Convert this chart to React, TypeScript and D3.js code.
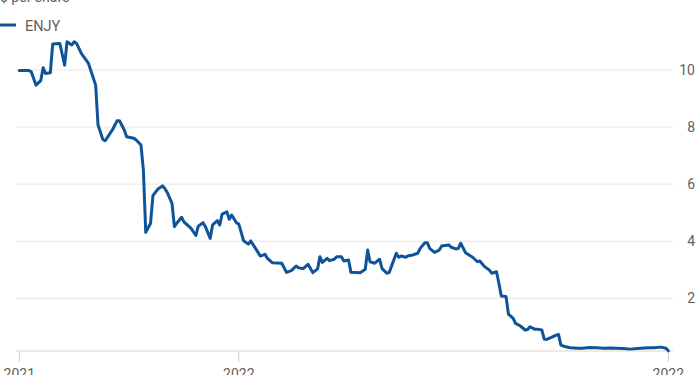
import React from "react";
import * as d3 from "d3";

// ENJY share price, $ per share
const dates = [
  "2021-10-01", "2021-10-05", "2021-10-06", "2021-10-08", "2021-10-10", "2021-10-11", "2021-10-12",
  "2021-10-14", "2021-10-15", "2021-10-18", "2021-10-20", "2021-10-21", "2021-10-23", "2021-10-24",
  "2021-10-25", "2021-10-27", "2021-10-30", "2021-11-02", "2021-11-03", "2021-11-05", "2021-11-06",
  "2021-11-09", "2021-11-11", "2021-11-12", "2021-11-14", "2021-11-15", "2021-11-18", "2021-11-19",
  "2021-11-21", "2021-11-22", "2021-11-23", "2021-11-25", "2021-11-26", "2021-11-28", "2021-11-30",
  "2021-12-01", "2021-12-02", "2021-12-04", "2021-12-05", "2021-12-06", "2021-12-08", "2021-12-09",
  "2021-12-12", "2021-12-14", "2021-12-15", "2021-12-17", "2021-12-18", "2021-12-20", "2021-12-21",
  "2021-12-23", "2021-12-24", "2021-12-25", "2021-12-27", "2021-12-28", "2021-12-29", "2021-12-31",
  "2022-01-01", "2022-01-03", "2022-01-05", "2022-01-06", "2022-01-08", "2022-01-10", "2022-01-12",
  "2022-01-13", "2022-01-15", "2022-01-19", "2022-01-21", "2022-01-23", "2022-01-25", "2022-01-26",
  "2022-01-28", "2022-01-30", "2022-01-31", "2022-02-01", "2022-02-03", "2022-02-04", "2022-02-05",
  "2022-02-07", "2022-02-08", "2022-02-10", "2022-02-11", "2022-02-13", "2022-02-14", "2022-02-16",
  "2022-02-17", "2022-02-21", "2022-02-23", "2022-02-24", "2022-02-25", "2022-02-27", "2022-03-01",
  "2022-03-02", "2022-03-04", "2022-03-05", "2022-03-08", "2022-03-09", "2022-03-10", "2022-03-12",
  "2022-03-13", "2022-03-15", "2022-03-17", "2022-03-18", "2022-03-20", "2022-03-21", "2022-03-22",
  "2022-03-24", "2022-03-26", "2022-03-27", "2022-03-30", "2022-03-31", "2022-04-02", "2022-04-03",
  "2022-04-04", "2022-04-06", "2022-04-08", "2022-04-09", "2022-04-11", "2022-04-12", "2022-04-14",
  "2022-04-16", "2022-04-17", "2022-04-19", "2022-04-20", "2022-04-21", "2022-04-23", "2022-04-24",
  "2022-04-26", "2022-04-27", "2022-04-29", "2022-05-01", "2022-05-02", "2022-05-03", "2022-05-05",
  "2022-05-06", "2022-05-08", "2022-05-09", "2022-05-10", "2022-05-12", "2022-05-14", "2022-05-15",
  "2022-05-16", "2022-05-18", "2022-05-20", "2022-05-23", "2022-05-25", "2022-05-28", "2022-05-31",
  "2022-06-03", "2022-06-06", "2022-06-08", "2022-06-11", "2022-06-14", "2022-06-17", "2022-06-20",
  "2022-06-22", "2022-06-24", "2022-06-27", "2022-06-29", "2022-06-30",
];

const prices = [
  9.98, 9.98, 9.94, 9.47, 9.63, 10.08, 9.88,
  9.9, 10.91, 10.93, 10.17, 10.99, 10.88, 10.99,
  10.93, 10.58, 10.23, 9.47, 8.07, 7.57, 7.52,
  7.9, 8.22, 8.22, 7.9, 7.66, 7.61, 7.55,
  7.37, 6.5, 4.31, 4.63, 5.6, 5.82, 5.94,
  5.85, 5.71, 5.33, 4.51, 4.63, 4.84, 4.68,
  4.45, 4.2, 4.53, 4.65, 4.51, 4.1, 4.57,
  4.72, 4.57, 4.95, 5.03, 4.77, 4.92, 4.65,
  4.6, 4.02, 3.9, 4.01, 3.75, 3.48, 3.54,
  3.4, 3.25, 3.23, 2.91, 2.97, 3.13, 3.07,
  3.04, 3.19, 3.05, 2.9, 3.03, 3.46, 3.26,
  3.4, 3.32, 3.37, 3.46, 3.46, 3.31, 3.34,
  2.91, 2.9, 3.02, 3.69, 3.28, 3.23, 3.37,
  3.05, 2.88, 2.9, 3.58, 3.44, 3.48, 3.44,
  3.49, 3.52, 3.58, 3.75, 3.95, 3.95, 3.75,
  3.61, 3.69, 3.83, 3.87, 3.79, 3.73, 3.75,
  3.93, 3.6, 3.49, 3.44, 3.28, 3.31, 3.11,
  2.99, 2.88, 2.93, 2.53, 2.08, 2.06, 1.45,
  1.3, 1.12, 1.03, 0.89, 0.91, 1.0, 0.92,
  0.92, 0.89, 0.57, 0.56, 0.63, 0.71, 0.73,
  0.36, 0.3, 0.27, 0.25, 0.25, 0.28, 0.27,
  0.25, 0.26, 0.25, 0.24, 0.22, 0.24, 0.26,
  0.27, 0.27, 0.29, 0.25, 0.16,
];

const yTicks = [2, 4, 6, 8, 10];
const xTicks = ["2021-10-01", "2022-01-01", "2022-06-30"];
const xTickLabels = ["2021", "2022", "2022"];

const W = 700;
const H = 375;
const font = "Roboto, 'Noto Sans', sans-serif";
const grey = "#66605c";

const App = () => {
  const parse = d3.utcParse("%Y-%m-%d");
  const data = dates.map((d, i) => ({ date: parse(d) as Date, value: prices[i] }));

  const x = d3
    .scaleUtc()
    .domain([parse("2021-10-01") as Date, parse("2022-06-30") as Date])
    .range([19.3, 668.3]);
  const y = d3.scaleLinear().domain([0, 10]).range([355.4, 70]);

  const line = d3
    .line<{ date: Date; value: number }>()
    .x(d => x(d.date))
    .y(d => y(d.value));

  const left = 16;
  const right = 673;
  const axisY = 351;

  return (
    <svg
      width={W}
      height={H}
      style={{ position: "absolute", left: 0, top: 0, background: "#fff" }}
    >
      <text x={0} y={1.5} fontFamily={font} fontSize={14} fill={grey}>
        $ per share
      </text>

      {/* legend */}
      <line x1={0} x2={16} y1={25} y2={25} stroke="#0f5499" strokeWidth={3} />
      <text x={25} y={30.5} fontFamily={font} fontSize={14.5} fill={grey}>
        ENJY
      </text>

      {/* grid + y axis */}
      {yTicks.map(t => (
        <g key={t}>
          <line x1={left} x2={right} y1={y(t)} y2={y(t)} stroke="#ece5df" strokeWidth={1} />
          <text
            x={695}
            y={y(t)}
            dy="0.36em"
            textAnchor="end"
            fontFamily={font}
            fontSize={14}
            fill={grey}
          >
            {t}
          </text>
        </g>
      ))}

      {/* x axis */}
      <line x1={left} x2={right} y1={axisY} y2={axisY} stroke="#ddd6cf" strokeWidth={1} />
      {xTicks.map((t, i) => {
        const px = x(parse(t) as Date);
        return (
          <g key={t + i}>
            <line x1={px} x2={px} y1={axisY} y2={362} stroke="#d4cdc6" strokeWidth={1} />
            <text
              x={px}
              y={378.5}
              textAnchor="middle"
              fontFamily={font}
              fontSize={14}
              fill={grey}
            >
              {xTickLabels[i]}
            </text>
          </g>
        );
      })}

      <path
        d={line(data) || ""}
        fill="none"
        stroke="#0f5499"
        strokeWidth={3}
        strokeLinejoin="round"
        strokeLinecap="round"
      />
    </svg>
  );
};

export default App;
